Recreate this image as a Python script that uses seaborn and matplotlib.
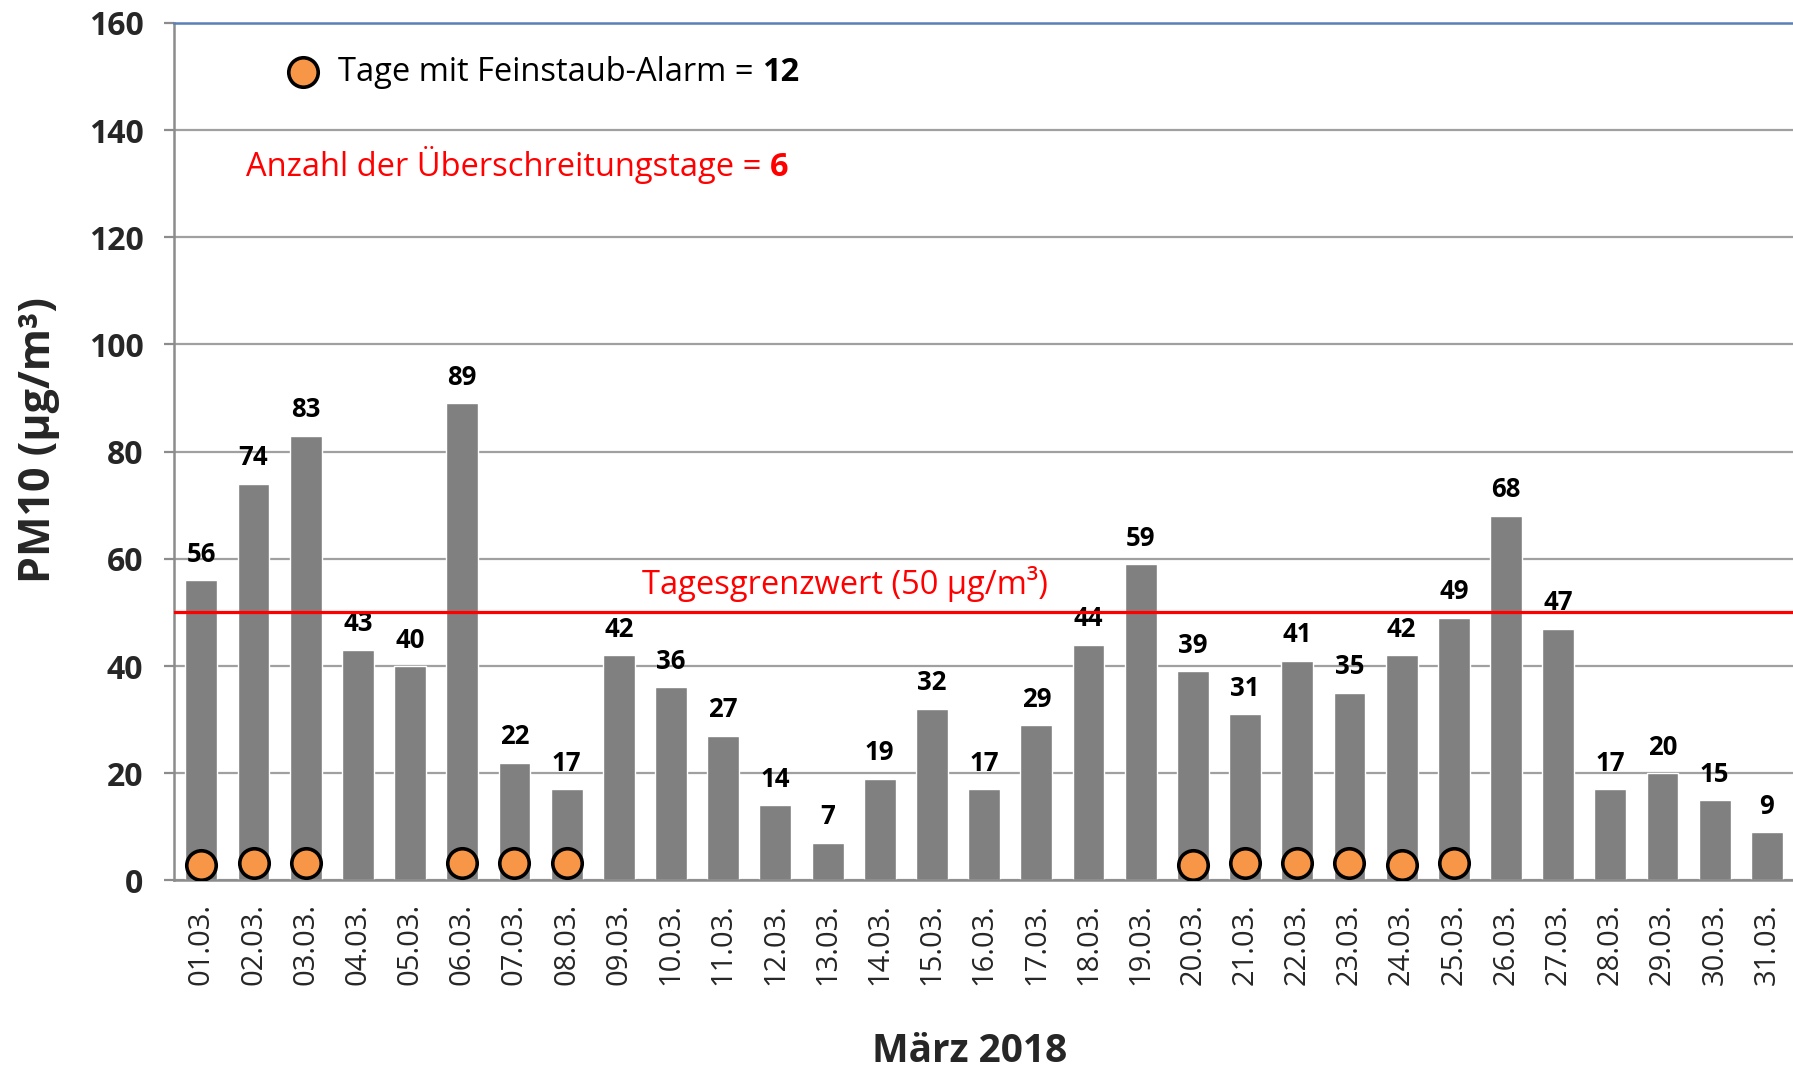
import numpy as np
import pandas as pd
import matplotlib
matplotlib.use("Agg")
import matplotlib.pyplot as plt
import seaborn as sns

# ---------------- data ----------------
dates = ["01.03.", "02.03.", "03.03.", "04.03.", "05.03.", "06.03.", "07.03.", "08.03.",
         "09.03.", "10.03.", "11.03.", "12.03.", "13.03.", "14.03.", "15.03.", "16.03.",
         "17.03.", "18.03.", "19.03.", "20.03.", "21.03.", "22.03.", "23.03.", "24.03.",
         "25.03.", "26.03.", "27.03.", "28.03.", "29.03.", "30.03.", "31.03."]
pm10 = [56, 74, 83, 43, 40, 89, 22, 17, 42, 36, 27, 14, 7, 19, 32, 17,
        29, 44, 59, 39, 31, 41, 35, 42, 49, 68, 47, 17, 20, 15, 9]
alarm_dates = ["01.03.", "02.03.", "03.03.", "06.03.", "07.03.", "08.03.",
               "20.03.", "21.03.", "22.03.", "23.03.", "24.03.", "25.03."]
alarm_y = [2.9, 3.2, 3.2, 3.2, 3.2, 3.2, 2.9, 3.2, 3.2, 3.2, 2.9, 3.2]
limit_value = 50
yticks = [0, 20, 40, 60, 80, 100, 120, 140, 160]
n_alarm_days = 12
n_exceed_days = 6

df = pd.DataFrame({"Datum": dates, "PM10": pm10})
alarm_df = pd.DataFrame({"pos": [dates.index(d) for d in alarm_dates], "y": alarm_y})

# ---------------- style ----------------
sns.set_style("white")
plt.rcParams["font.family"] = ["Open Sans", "DejaVu Sans"]

BAR = "#808080"
ORANGE = "#F79646"
RED = "#FF0000"
GRID = "#A0A0A0"
AXIS = "#8C8C8C"
BLUE = "#5B80B8"
MS = 450

fig = plt.figure(figsize=(17.93, 10.68), dpi=100)
ax = fig.add_axes([0.097, 0.1756, 0.903, 0.803])

sns.barplot(data=df, x="Datum", y="PM10", color=BAR, saturation=1, width=0.61,
            ax=ax, zorder=2)

ax.bar_label(ax.containers[0], fmt="%d", padding=9, fontsize=18.5,
             fontweight="bold", color="black")

ax.axhline(limit_value, color=RED, lw=2.3, zorder=3)

sns.scatterplot(data=alarm_df, x="pos", y="y", marker="o", s=MS, color=ORANGE,
                edgecolor="black", linewidth=2.6, ax=ax, zorder=4, legend=False)

ax.set_xlim(-0.526, 30.44)
ax.set_ylim(0, 160)
ax.set_yticks(yticks)
ax.set_yticklabels([str(v) for v in yticks], fontsize=23, fontweight="bold")
ax.yaxis.grid(True, color=GRID, lw=1.6, zorder=0)
ax.set_axisbelow(True)

ax.set_xticks(range(len(dates)))
ax.set_xticklabels(dates, rotation=90, fontsize=21, va="top")
ax.set_xticks(np.arange(-0.5, len(dates), 1.0), minor=True)
ax.tick_params(axis="x", which="major", length=0, pad=16)
ax.tick_params(axis="x", which="minor", length=8, width=1.6, color=AXIS, direction="out")
ax.tick_params(axis="y", which="major", length=7, width=1.6, color=AXIS,
               direction="out", pad=15, left=True)

for s in ["left", "bottom"]:
    ax.spines[s].set_color(AXIS)
    ax.spines[s].set_linewidth(1.8)
ax.spines["right"].set_visible(False)
ax.spines["top"].set_color(BLUE)
ax.spines["top"].set_linewidth(1.8)

ax.set_xlabel("März 2018", fontsize=28, fontweight="bold", va="center")
ax.xaxis.set_label_coords(0.4916, -0.199)
ax.set_ylabel("PM10 (µg/m³)", fontsize=31, fontweight="bold", va="center")
ax.yaxis.set_label_coords(-0.0839, 0.514)

# annotations
ax.scatter([1.95], [150.8], marker="o", s=MS, color=ORANGE, edgecolor="black",
           linewidth=2.6, zorder=5, clip_on=False)
t1 = ax.text(2.62, 150.8, "Tage mit Feinstaub-Alarm = ", fontsize=23.5, va="center",
             ha="left", color="black")
ax.annotate(str(n_alarm_days), xy=(1, 0), xycoords=t1, va="bottom", ha="left",
            fontsize=23.5, fontweight="bold", color="black")

t2 = ax.text(0.85, 133.5, "Anzahl der Überschreitungstage = ", fontsize=23.5,
             va="center", ha="left", color=RED)
ax.annotate(str(n_exceed_days), xy=(1, 0), xycoords=t2, va="bottom", ha="left",
            fontsize=23.5, fontweight="bold", color=RED)

ax.text(12.33, 55.3, "Tagesgrenzwert (50 µg/m³)", fontsize=23.5, va="center",
        ha="center", color=RED)

fig.savefig("out.png", dpi=100)
